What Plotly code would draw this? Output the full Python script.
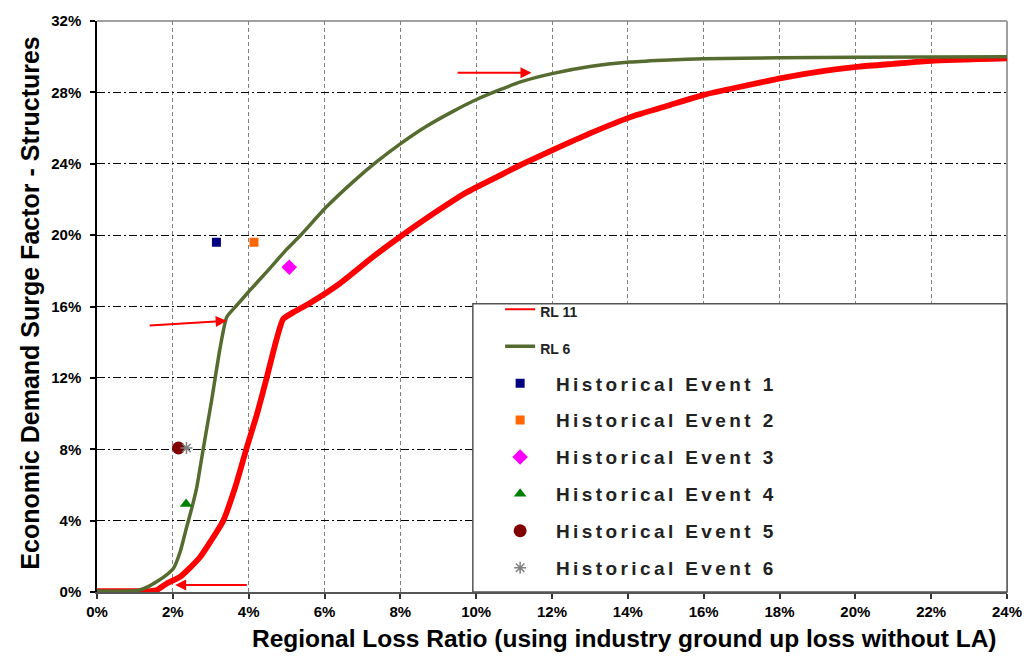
import plotly.graph_objects as go

# Demand surge curves (x: regional loss ratio %, y: surge factor %)
rl11_x = [0, 1.2, 1.4, 1.57, 1.84, 2.19, 2.45, 2.72, 3.0, 3.33, 3.65, 3.95, 4.21, 4.47,
          4.74, 4.91, 5.2, 5.62, 6.41, 7.29, 7.99, 8.87, 9.75, 10.63, 11.19, 12.0, 13.0,
          14.05, 15.1, 16.0, 17.0, 18.05, 19.18, 20.1, 21.0, 22.0, 24.0]
rl11_y = [0.05, 0.05, 0.05, 0.1, 0.48, 0.85, 1.35, 1.96, 2.85, 4.0, 5.9, 8.1, 9.9, 11.96,
          14.2, 15.3, 15.7, 16.2, 17.3, 18.8, 19.9, 21.2, 22.4, 23.35, 23.95, 24.75, 25.7,
          26.6, 27.28, 27.86, 28.33, 28.8, 29.2, 29.44, 29.6, 29.77, 29.9]

rl6_x = [0, 0.8, 1.1, 1.35, 1.57, 1.8, 2.01, 2.2, 2.36, 2.5, 2.63, 2.8, 3.02, 3.24, 3.42,
         3.7, 4.03, 4.5, 5.0, 5.35, 6.06, 6.76, 7.37, 7.99, 8.69, 9.40, 10.01, 10.63,
         11.19, 12.0, 13.0, 14.05, 15.1, 16.0, 18.0, 20.0, 24.0]
rl6_y = [0.05, 0.05, 0.1, 0.3, 0.57, 0.9, 1.3, 2.3, 3.6, 4.7, 5.85, 8.0, 10.7, 13.6, 15.4,
         16.1, 16.9, 18.0, 19.2, 19.95, 21.6, 23.0, 24.1, 25.1, 26.1, 26.95, 27.6, 28.15,
         28.6, 29.05, 29.45, 29.7, 29.82, 29.88, 29.94, 29.97, 30.0]

curve_names = ["RL 11", "RL 6"]
curve_colors = ["#FF0000", "#556B2F"]

# Historical events
event_names = ["Historical Event 1", "Historical Event 2", "Historical Event 3",
               "Historical Event 4", "Historical Event 5", "Historical Event 6"]
event_x = [3.15, 4.14, 5.07, 2.35, 2.15, 2.36]
event_y = [19.6, 19.6, 18.2, 4.93, 8.07, 8.07]
event_symbols = ["square", "square", "diamond", "triangle-up", "circle", "asterisk-open"]
event_colors = ["#000080", "#FF6600", "#FF00FF", "#008000", "#800000", "#808080"]
event_sizes = [9, 9, 12, 11, 13, 10]

# Arrows pointing at curve features: (tail_x, tail_y, head_x, head_y)
arrows = [(9.47, 29.1, 11.46, 29.1),
          (1.35, 14.93, 3.42, 15.2),
          (3.99, 0.39, 2.06, 0.39)]

x_ticks = list(range(0, 25, 2))
y_ticks = list(range(0, 33, 4))

FONT = "Liberation Sans, Arial, sans-serif"

fig = go.Figure()

# Curves
fig.add_trace(go.Scatter(
    x=rl11_x, y=rl11_y, mode="lines", showlegend=False,
    line=dict(color=curve_colors[0], width=5.8, shape="spline", smoothing=0.5)))
fig.add_trace(go.Scatter(
    x=rl6_x, y=rl6_y, mode="lines", showlegend=False,
    line=dict(color=curve_colors[1], width=3.5, shape="spline", smoothing=0.5)))

# Legend entries for the curves (thin sample lines)
for i, (name, w) in enumerate(zip(curve_names, [2, 3.5])):
    fig.add_trace(go.Scatter(
        x=[None], y=[None], mode="lines",
        name='<span style="font-size:14px">' + name + '</span>',
        line=dict(color=curve_colors[i], width=w), legendgroup="c%d" % i))

for i, name in enumerate(event_names):
    sym = event_symbols[i]
    marker = dict(symbol=sym, color=event_colors[i], size=event_sizes[i])
    if sym == "asterisk-open":
        marker["line"] = dict(color=event_colors[i], width=1.5)
    else:
        marker["line"] = dict(width=0)
    label = ('\u00a0\u00a0\u00a0<span style="letter-spacing:3.4px">'
             + name + '</span>')
    fig.add_trace(go.Scatter(
        x=[event_x[i]], y=[event_y[i]], mode="markers", name=label,
        marker=marker, legendgroup="e%d" % i))

for tx, ty, hx, hy in arrows:
    fig.add_annotation(
        x=hx, y=hy, ax=tx, ay=ty, xref="x", yref="y", axref="x", ayref="y",
        text="", showarrow=True, arrowhead=2, arrowsize=1.1, arrowwidth=2,
        arrowcolor="#FF0000")

# Axis titles
fig.add_annotation(
    text="Regional Loss Ratio (using industry ground up loss without LA)",
    xref="paper", yref="paper", x=0.58, y=-0.081, xanchor="center", yanchor="middle",
    showarrow=False, font=dict(family=FONT, size=24.5, weight="bold", color="black"))
fig.add_annotation(
    text="Economic Demand Surge Factor - Structures", textangle=-90,
    xref="paper", yref="paper", x=-0.0736, y=0.505, xanchor="center", yanchor="middle",
    showarrow=False, font=dict(family=FONT, size=25, weight="bold", color="black"))

# Legend frame, top/right plot border
fig.add_shape(type="rect", xref="paper", yref="paper", x0=0.413, x1=1.0, y0=0.0, y1=0.505,
              fillcolor="white", line=dict(color="#555555", width=1.5), layer="above")
fig.add_shape(type="line", xref="paper", yref="paper", x0=0, x1=1, y0=1, y1=1,
              line=dict(color="#A0A0A0", width=2), layer="below")
fig.add_shape(type="line", xref="paper", yref="paper", x0=1, x1=1, y0=0, y1=1,
              line=dict(color="#A0A0A0", width=2), layer="below")

fig.update_layout(
    width=1036, height=661,
    margin=dict(l=97, r=29, t=16, b=69),
    paper_bgcolor="white", plot_bgcolor="white",
    font=dict(family=FONT, color="black"),
    showlegend=True,
    legend=dict(
        x=0.443, y=0.528, xanchor="left", yanchor="top",
        bgcolor="rgba(0,0,0,0)", borderwidth=0,
        font=dict(family=FONT, size=19, color="#222222", weight="bold"),
        tracegroupgap=9.2, traceorder="grouped", itemsizing="trace"),
    xaxis=dict(
        range=[0, 24], tickvals=x_ticks, ticktext=["%d%%" % v for v in x_ticks],
        showgrid=True, gridcolor="#808080", gridwidth=1, griddash="4px,3px",
        showline=True, linecolor="#555555", linewidth=2,
        ticks="outside", ticklen=5, tickcolor="#333333", tickwidth=1.5,
        tickfont=dict(family=FONT, size=15, weight="bold", color="black"),
        zeroline=False),
    yaxis=dict(
        range=[0, 32], tickvals=y_ticks, ticktext=["%d%%" % v for v in y_ticks],
        showgrid=True, gridcolor="black", gridwidth=1, griddash="8px,3px,2px,3px",
        showline=True, linecolor="black", linewidth=1.5,
        ticks="outside", ticklen=5, tickcolor="black", tickwidth=1.5,
        tickfont=dict(family=FONT, size=15, weight="bold", color="black"),
        ticklabelstandoff=6, zeroline=False),
)

fig.write_html("out.html")
